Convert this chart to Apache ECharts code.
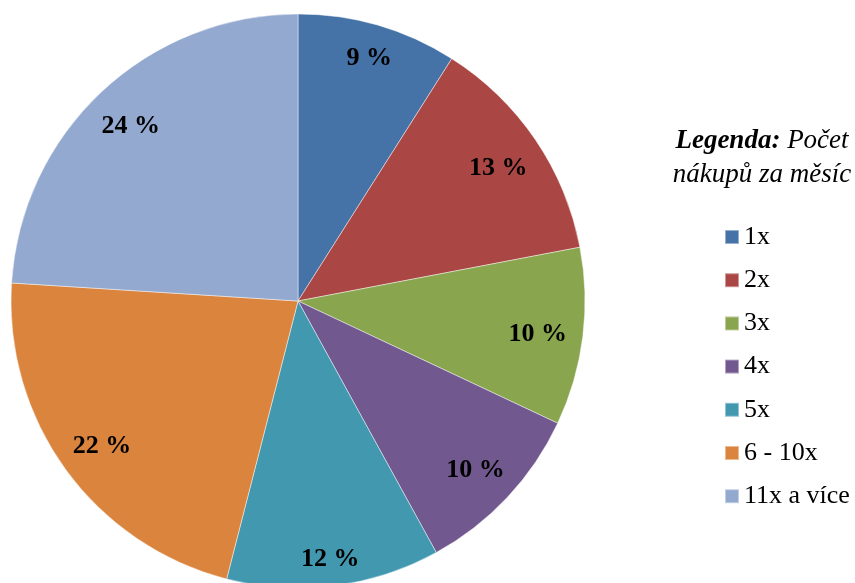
<!DOCTYPE html>
<html>
<head>
<meta charset="utf-8">
<script src="https://cdn.jsdelivr.net/npm/echarts@6/dist/echarts.min.js"></script>
<style>
  html, body { margin: 0; padding: 0; background: #ffffff; }
  #chart { width: 855px; height: 583px; }
</style>
</head>
<body>
<div id="chart"></div>
<script>
// Počet nákupů za měsíc – podíl respondentů (%)
const categories = ['1x', '2x', '3x', '4x', '5x', '6 - 10x', '11x a více'];
const shares = [9, 13, 10, 10, 12, 22, 24];
const colors = ['#4572A7', '#AA4643', '#89A54E', '#71588F', '#4198AF', '#DB843D', '#93A9CF'];

const FONT = '"Liberation Serif", "Times New Roman", serif';
const CENTER = [298, 301];
const RADIUS = 287;
const LABEL_SIZE = 26;
const LABEL_FIT = 272; // outer label corner stays this far from the centre

const pieData = categories.map((name, i) => ({
  name: name,
  value: shares[i],
  itemStyle: { color: colors[i] }
}));

// mid-angle of every slice, clockwise from 12 o'clock
const total = shares.reduce((a, b) => a + b, 0);
const midAngles = [];
shares.reduce((acc, v) => {
  midAngles.push((acc + v / 2) / total * 2 * Math.PI);
  return acc + v;
}, 0);

// "inside end" placement: push the label box outwards along the slice
// bisector until its outermost corner touches the fit circle
function insideEnd(params) {
  const a = midAngles[params.dataIndex];
  const ux = Math.sin(a), uy = -Math.cos(a);
  const hw = params.labelRect.width / 2;
  const hh = LABEL_SIZE * 0.38;
  const cx = Math.sign(ux) * hw, cy = Math.sign(uy) * hh;
  const b = ux * cx + uy * cy;
  const c = cx * cx + cy * cy - LABEL_FIT * LABEL_FIT;
  const t = -b + Math.sqrt(b * b - c);
  return {
    x: CENTER[0] + t * ux,
    y: CENTER[1] + t * uy + 3,
    align: 'center',
    verticalAlign: 'middle'
  };
}

const chart = echarts.init(document.getElementById('chart'), null, { renderer: 'canvas' });

chart.setOption({
  animation: false,
  backgroundColor: '#ffffff',
  title: {
    text: '{b|Legenda:} Počet\nnákupů za měsíc',
    left: 757,
    top: 119,
    textAlign: 'center',
    textStyle: {
      fontFamily: FONT,
      fontStyle: 'italic',
      fontWeight: 'normal',
      fontSize: 27,
      lineHeight: 34,
      color: '#000000',
      rich: {
        b: {
          fontFamily: FONT,
          fontStyle: 'italic',
          fontWeight: 'bold',
          fontSize: 27,
          lineHeight: 34,
          color: '#000000'
        }
      }
    }
  },
  legend: {
    orient: 'vertical',
    left: 719,
    top: 219,
    itemWidth: 14,
    itemHeight: 14,
    itemGap: 17.2,
    icon: 'rect',
    data: categories,
    textStyle: {
      fontFamily: FONT,
      fontSize: 26,
      lineHeight: 26,
      color: '#000000'
    }
  },
  series: [
    {
      name: 'Počet nákupů',
      type: 'pie',
      center: CENTER,
      radius: [0, RADIUS],
      startAngle: 90,
      clockwise: true,
      data: pieData,
      label: {
        show: true,
        position: 'inside',
        formatter: '{c} %',
        fontFamily: FONT,
        fontWeight: 'bold',
        fontSize: LABEL_SIZE,
        color: '#000000'
      },
      labelLayout: insideEnd,
      labelLine: { show: false },
      itemStyle: {
        borderColor: 'rgba(255,255,255,0.45)',
        borderWidth: 1
      },
      emphasis: { disabled: true }
    }
  ]
});
</script>
</body>
</html>
